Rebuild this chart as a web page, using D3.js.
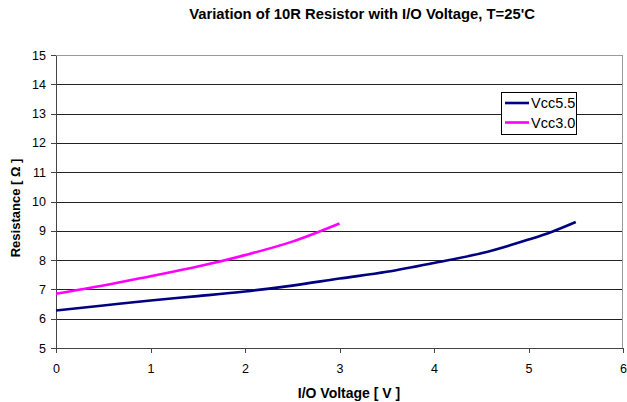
<!DOCTYPE html>
<html>
<head>
<meta charset="utf-8">
<script src="https://cdn.jsdelivr.net/npm/d3@7"></script>
<style>
  body { margin: 0; background: #fff; }
  svg { display: block; font-family: "Liberation Sans", Arial, sans-serif; }
  .grid line { stroke: #222; stroke-width: 1; shape-rendering: crispEdges; }
  .axis path, .axis line { stroke: #444; shape-rendering: crispEdges; }
  .axis text { font-size: 12.5px; fill: #000; }
</style>
</head>
<body>
<div id="chart"></div>
<script>
// Voltage points (V) and resistance readings (ohm) per supply
const voltsHigh = [0, 0.5, 1.0, 1.5, 2.0, 2.5, 3.0, 3.5, 4.0, 4.5, 5.0, 5.25, 5.5];
const vcc55 = [6.28, 6.45, 6.62, 6.77, 6.93, 7.13, 7.37, 7.6, 7.9, 8.23, 8.7, 8.97, 9.3];
const voltsLow = [0, 0.5, 1.0, 1.5, 2.0, 2.5, 3.0];
const vcc30 = [6.85, 7.13, 7.45, 7.78, 8.17, 8.63, 9.25];

const xTicks = [0, 1, 2, 3, 4, 5, 6];
const yTicks = [5, 6, 7, 8, 9, 10, 11, 12, 13, 14, 15];

const seriesList = [
    {name: "Vcc5.5", x: voltsHigh, y: vcc55, color: "#000080"},
    {name: "Vcc3.0", x: voltsLow, y: vcc30, color: "#ff00ff"}
];

const W = 627, H = 402;
const margin = {top: 55, right: 4, bottom: 54, left: 56};
const width = W - margin.left - margin.right;
const height = H - margin.top - margin.bottom;

const svg = d3.select("#chart").append("svg")
    .attr("width", W)
    .attr("height", H);

const g = svg.append("g")
    .attr("transform", `translate(${margin.left},${margin.top})`);

const x = d3.scaleLinear().domain([0, 6]).range([0, width]);
const y = d3.scaleLinear().domain([5, 15]).range([height, 0]);

// horizontal gridlines
g.append("g")
    .attr("class", "grid")
    .selectAll("line")
    .data(yTicks.filter(d => d > 5 && d < 15))
    .enter()
    .append("line")
    .attr("x1", 0)
    .attr("x2", width)
    .attr("y1", d => Math.round(y(d)) + 0.5)
    .attr("y2", d => Math.round(y(d)) + 0.5);

// plot area border (top and right)
g.append("path")
    .attr("d", `M0,0.5H${width - 0.5}V${height}`)
    .attr("fill", "none")
    .attr("stroke", "#9a9a9a")
    .attr("shape-rendering", "crispEdges");

// axes
g.append("g")
    .attr("class", "axis")
    .attr("transform", `translate(0,${height})`)
    .call(d3.axisBottom(x).tickValues(xTicks).tickFormat(d3.format("d"))
        .tickSize(5).tickSizeOuter(0).tickPadding(11));

g.append("g")
    .attr("class", "axis")
    .call(d3.axisLeft(y).tickValues(yTicks).tickFormat(d3.format("d"))
        .tickSize(5).tickSizeOuter(0).tickPadding(5));

// lines
const line = d3.line()
    .x(d => x(d[0]))
    .y(d => y(d[1]))
    .curve(d3.curveMonotoneX);

seriesList.forEach(s => {
    g.append("path")
        .datum(s.x.map((v, i) => [v, s.y[i]]))
        .attr("fill", "none")
        .attr("stroke", s.color)
        .attr("stroke-width", 2.6)
        .attr("d", line);
});

// title and axis labels
svg.append("text")
    .attr("x", 362)
    .attr("y", 19)
    .attr("text-anchor", "middle")
    .style("font-size", "14.8px")
    .style("font-weight", "bold")
    .text("Variation of 10R Resistor with I/O Voltage, T=25'C");

svg.append("text")
    .attr("x", 349)
    .attr("y", 398)
    .attr("text-anchor", "middle")
    .style("font-size", "14px")
    .style("font-weight", "bold")
    .text("I/O Voltage [ V ]");

svg.append("text")
    .attr("transform", "translate(20,208) rotate(-90)")
    .attr("text-anchor", "middle")
    .style("font-size", "13px")
    .style("font-weight", "bold")
    .text("Resistance [ \u03A9 ]");

// legend
const legend = svg.append("g")
    .attr("transform", "translate(501,92)");

legend.append("rect")
    .attr("x", 0.5)
    .attr("y", 0.5)
    .attr("width", 75)
    .attr("height", 42)
    .attr("fill", "#fff")
    .attr("stroke", "#000");

seriesList.forEach((s, i) => {
    const row = legend.append("g")
        .attr("transform", `translate(0,${11 + i * 19.5})`);
    row.append("line")
        .attr("x1", 4)
        .attr("x2", 28)
        .attr("y1", 0)
        .attr("y2", 0)
        .attr("stroke", s.color)
        .attr("stroke-width", 2.6);
    row.append("text")
        .attr("x", 30)
        .attr("y", 0)
        .attr("dy", "0.35em")
        .style("font-size", "14.5px")
        .text(s.name);
});
</script>
</body>
</html>
